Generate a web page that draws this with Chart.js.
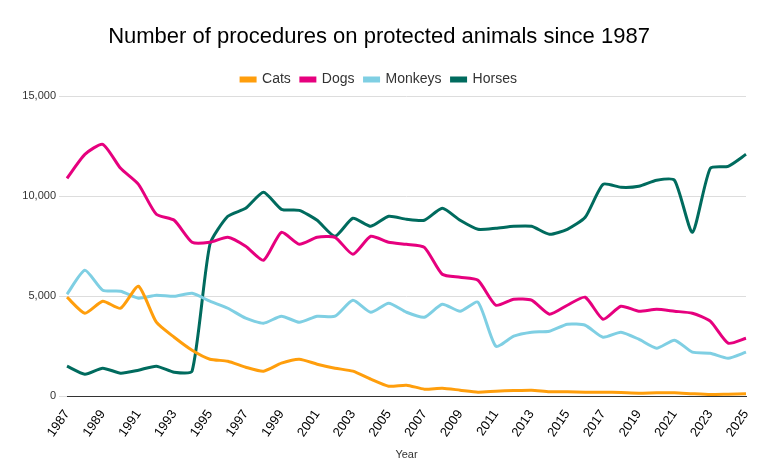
<!DOCTYPE html>
<html><head><meta charset="utf-8">
<script src="https://cdn.jsdelivr.net/npm/chart.js@4"></script>
<style>body{margin:0;background:#fff}#wrap{width:768px;height:474px}</style>
</head><body><div id="wrap"><canvas id="c"></canvas></div>
<script>
const years = [];
for (let y = 1987; y <= 2025; y++) years.push(String(y));

const cats = [4950,4150,4750,4400,5500,3700,2950,2300,1850,1750,1450,1250,1650,1850,1600,1400,1250,850,500,550,350,400,300,200,250,280,300,220,220,200,200,180,150,170,170,120,80,100,120];
const dogs = [10900,12100,12600,11400,10600,9100,8800,7700,7700,7950,7500,6800,8200,7600,7950,7950,7100,8000,7700,7600,7450,6100,5950,5800,4550,4850,4800,4100,4550,4950,3850,4500,4250,4350,4250,4150,3750,2650,2900];
const monkeys = [5100,6300,5300,5250,4900,5050,5000,5150,4750,4400,3900,3650,4000,3700,4000,4000,4800,4200,4650,4200,3950,4600,4250,4700,2500,3000,3200,3250,3600,3550,2950,3200,2850,2400,2800,2200,2150,1900,2200];
const horses = [1500,1100,1400,1150,1300,1500,1200,1250,7600,9000,9400,10200,9350,9300,8800,8000,8900,8500,9000,8850,8800,9400,8800,8350,8400,8500,8500,8100,8350,8950,10600,10450,10500,10800,10800,8200,11400,11500,12100];

const font = 'Arial, "Liberation Sans", sans-serif';
function ds(label, data, color) {
  return { label, data, borderColor: color, backgroundColor: color, borderWidth: 3, pointRadius: 0, tension: 0.2 };
}

new Chart(document.getElementById('c'), {
  type: 'line',
  data: {
    labels: years,
    datasets: [
      ds('Cats', cats, '#ff9e0c'),
      ds('Dogs', dogs, '#e6007e'),
      ds('Monkeys', monkeys, '#7fcfe3'),
      ds('Horses', horses, '#006b5e')
    ]
  },
  options: {
    responsive: true, maintainAspectRatio: false, animation: false,
    layout: { padding: { left: 12, right: 22, top: 24, bottom: 8 } },
    plugins: {
      title: { display: true, text: 'Number of procedures on protected animals since 1987', color: '#000', font: { family: font, size: 22, weight: 'normal' }, padding: { bottom: 12 } },
      legend: { labels: { font: { family: font, size: 14 }, color: '#333', boxWidth: 14, boxHeight: 3, padding: 10 } }
    },
    scales: {
      x: {
        grid: { display: false },
        border: { color: '#333' },
        title: { display: true, text: 'Year', font: { family: font, size: 11 }, color: '#333', padding: { top: 6 } },
        ticks: { autoSkip: false, maxRotation: 55, minRotation: 55, color: '#000', font: { family: font, size: 13 },
          callback: function(v, i) { return i % 2 === 0 ? this.getLabelForValue(v) : ''; } }
      },
      y: {
        min: 0, max: 15000, afterFit: s => { s.width = 55; },
        ticks: { stepSize: 5000, color: '#333', font: { family: font, size: 11 }, callback: v => v.toLocaleString('en-US') },
        grid: { color: '#ddd' },
        border: { display: false }
      }
    }
  }
});
</script></body></html>
